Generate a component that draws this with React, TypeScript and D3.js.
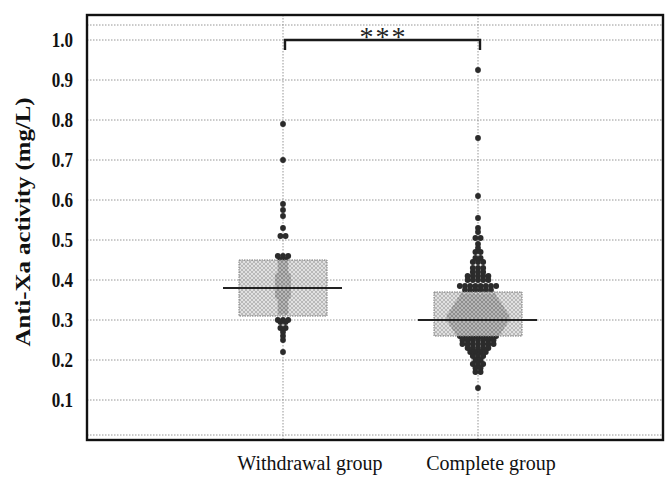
import React from 'react';
import * as d3 from 'd3';

const groups = ['Withdrawal group', 'Complete group'];

const withdrawalValues = [
  0.79, 0.70, 0.59, 0.575, 0.56, 0.53, 0.51, 0.51,
  0.46, 0.46, 0.46, 0.45, 0.45,
  0.44, 0.44, 0.43, 0.43, 0.42, 0.42, 0.41, 0.41, 0.41,
  0.40, 0.40, 0.40, 0.39, 0.39, 0.39, 0.38, 0.38, 0.38,
  0.37, 0.37, 0.37, 0.36, 0.36, 0.36, 0.35, 0.35, 0.34, 0.34,
  0.33, 0.33, 0.32, 0.32,
  0.30, 0.30, 0.30, 0.295, 0.295, 0.28, 0.28, 0.27, 0.26, 0.25, 0.22,
];

const completeValues = [
  0.925, 0.755, 0.61, 0.555, 0.53, 0.52, 0.505, 0.505, 0.49, 0.48,
  0.47, 0.47, 0.455, 0.455, 0.445, 0.445, 0.445,
  0.43, 0.43, 0.43, 0.42, 0.42, 0.42,
  0.41, 0.41, 0.41, 0.41, 0.41,
  0.40, 0.40, 0.40, 0.40, 0.40,
  0.385, 0.385, 0.385, 0.385, 0.385, 0.385, 0.385, 0.385,
  0.375, 0.375, 0.375, 0.375, 0.375, 0.375,
  0.36, 0.36, 0.36, 0.36, 0.36, 0.36, 0.36,
  0.35, 0.35, 0.35, 0.35, 0.35, 0.35, 0.35, 0.35,
  0.34, 0.34, 0.34, 0.34, 0.34, 0.34, 0.34, 0.34, 0.34,
  0.33, 0.33, 0.33, 0.33, 0.33, 0.33, 0.33, 0.33, 0.33, 0.33,
  0.32, 0.32, 0.32, 0.32, 0.32, 0.32, 0.32, 0.32, 0.32, 0.32, 0.32,
  0.31, 0.31, 0.31, 0.31, 0.31, 0.31, 0.31, 0.31, 0.31, 0.31, 0.31, 0.31,
  0.30, 0.30, 0.30, 0.30, 0.30, 0.30, 0.30, 0.30, 0.30, 0.30, 0.30, 0.30,
  0.29, 0.29, 0.29, 0.29, 0.29, 0.29, 0.29, 0.29, 0.29, 0.29, 0.29,
  0.28, 0.28, 0.28, 0.28, 0.28, 0.28, 0.28, 0.28, 0.28, 0.28,
  0.27, 0.27, 0.27, 0.27, 0.27, 0.27, 0.27, 0.27, 0.27,
  0.26, 0.26, 0.26, 0.26, 0.26, 0.26, 0.26, 0.26,
  0.25, 0.25, 0.25, 0.25, 0.25, 0.25, 0.25,
  0.24, 0.24, 0.24, 0.24, 0.24, 0.24, 0.24,
  0.23, 0.23, 0.23, 0.23, 0.23,
  0.22, 0.22, 0.22, 0.22,
  0.21, 0.21, 0.21,
  0.20, 0.20, 0.19, 0.19, 0.19, 0.18, 0.18, 0.17, 0.17,
  0.13,
];

const q1Values = [0.31, 0.26];
const medianValues = [0.38, 0.30];
const q3Values = [0.45, 0.37];

const yTicks = [0.1, 0.2, 0.3, 0.4, 0.5, 0.6, 0.7, 0.8, 0.9, 1.0];
const yTickLabels = ['0.1', '0.2', '0.3', '0.4', '0.5', '0.6', '0.7', '0.8', '0.9', '1.0'];
const edgeGridValues = [0.0125, 1.0375];
const sigLabel = '***';
const yTitle = 'Anti-Xa activity (mg/L)';
const labelCenters = [310, 491];

const W = 665;
const H = 477;
const frame = { left: 87, right: 663, top: 15, bottom: 440 };

export default function App() {
  const y = d3.scaleLinear().domain([0, 1.0625]).range([frame.bottom, frame.top]);
  const x = d3.scalePoint<string>().domain(groups).range([283, 478]).padding(0);

  const dot = 5.2;
  const swarm = (vals: number[], cx: number) => {
    const rows = d3.group(vals, (v) => v);
    const pts: { x: number; y: number }[] = [];
    rows.forEach((arr, v) => {
      const n = arr.length;
      arr.forEach((_, i) => {
        pts.push({ x: cx + (i - (n - 1) / 2) * dot, y: y(v) });
      });
    });
    return pts;
  };

  const series = [withdrawalValues, completeValues];
  const serif = '"Liberation Serif", "DejaVu Serif", serif';

  return (
    <svg
      width={W}
      height={H}
      style={{ position: 'absolute', left: 0, top: 0, background: '#fff' }}
      fontFamily={serif}
    >
      <defs>
        <pattern id="hatch" width="4" height="4" patternUnits="userSpaceOnUse">
          <rect width="4" height="4" fill="#dadada" />
          <path d="M0,0 L4,4 M4,0 L0,4" stroke="#9a9a9a" strokeWidth="0.8" />
        </pattern>
      </defs>

      {/* grid lines */}
      {[...yTicks, ...edgeGridValues].map((t, i) => (
        <line
          key={'g' + i}
          x1={frame.left}
          x2={frame.right}
          y1={y(t)}
          y2={y(t)}
          stroke="#8a8a8a"
          strokeWidth={0.9}
          strokeDasharray="1.5,1.5"
        />
      ))}
      {groups.map((g) => (
        <line
          key={'v' + g}
          x1={x(g)}
          x2={x(g)}
          y1={frame.top}
          y2={frame.bottom}
          stroke="#8a8a8a"
          strokeWidth={0.9}
          strokeDasharray="1.5,1.5"
        />
      ))}

      {/* points */}
      {groups.map((g, gi) =>
        swarm(series[gi], x(g) as number).map((p, i) => (
          <circle key={g + i} cx={p.x} cy={p.y} r={2.9} fill="#2b2b2b" />
        ))
      )}

      {/* boxes */}
      {groups.map((g, gi) => {
        const cx = x(g) as number;
        return (
          <g key={'b' + g}>
            <rect
              x={cx - 44}
              y={y(q3Values[gi])}
              width={88}
              height={y(q1Values[gi]) - y(q3Values[gi])}
              fill="url(#hatch)"
              fillOpacity={0.8}
              stroke="#7a7a7a"
              strokeWidth={1}
              strokeDasharray="1.5,1"
            />
            <line
              x1={cx - 60}
              x2={cx + 59}
              y1={y(medianValues[gi])}
              y2={y(medianValues[gi])}
              stroke="#222"
              strokeWidth={2}
            />
          </g>
        );
      })}

      {/* significance bracket */}
      <path
        d={`M${(x(groups[0]) as number) + 2},${y(0.975)} V${y(1.0)} H${(x(groups[1]) as number) + 2} V${y(0.975)}`}
        fill="none"
        stroke="#1a1a1a"
        strokeWidth={2.4}
      />
      <text
        x={((x(groups[0]) as number) + (x(groups[1]) as number)) / 2 + 3}
        y={46}
        textAnchor="middle"
        fontSize={28}
        letterSpacing={2}
        fill="#222"
      >
        {sigLabel}
      </text>

      {/* frame */}
      <rect
        x={frame.left}
        y={frame.top}
        width={frame.right - frame.left}
        height={frame.bottom - frame.top}
        fill="none"
        stroke="#111"
        strokeWidth={2.4}
      />

      {/* y tick labels */}
      {yTicks.map((t, i) => (
        <text
          key={'t' + i}
          x={73}
          y={y(t)}
          dy="0.35em"
          textAnchor="end"
          fontSize={17}
          fontWeight="bold"
          fill="#111"
          transform={`translate(0,${y(t)}) scale(1,1.25) translate(0,${-y(t)})`}
        >
          {yTickLabels[i]}
        </text>
      ))}

      {/* y title */}
      <text
        transform={`translate(30,222) rotate(-90)`}
        textAnchor="middle"
        fontSize={21}
        fontWeight="bold"
        fill="#111"
        textLength={249}
        lengthAdjust="spacingAndGlyphs"
      >
        {yTitle}
      </text>

      {/* x labels */}
      {groups.map((g, gi) => (
        <text
          key={'xl' + g}
          x={labelCenters[gi]}
          y={470}
          textAnchor="middle"
          fontSize={20}
          fill="#111"
        >
          {g}
        </text>
      ))}
    </svg>
  );
}
